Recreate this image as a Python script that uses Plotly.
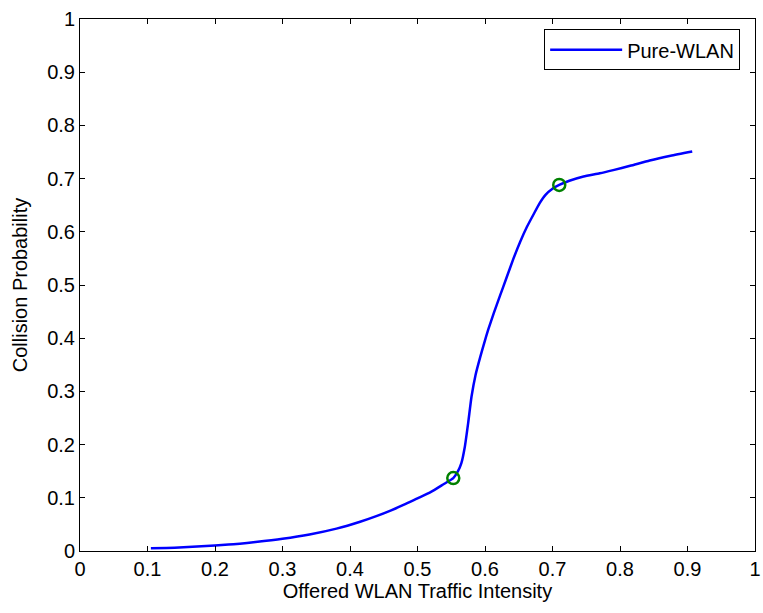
import plotly.graph_objects as go

# Data
intensity = [0.105, 0.14, 0.18, 0.22, 0.26, 0.30, 0.34, 0.38, 0.415, 0.44, 0.46, 0.48,
             0.50, 0.52, 0.538, 0.553, 0.560, 0.565, 0.570, 0.575, 0.580, 0.586, 0.593,
             0.600, 0.605, 0.613, 0.622, 0.632, 0.642, 0.652, 0.662, 0.672, 0.681,
             0.690, 0.700, 0.710, 0.725, 0.746, 0.770, 0.790, 0.815, 0.844, 0.875, 0.907]
collision = [0.005, 0.006, 0.009, 0.012, 0.017, 0.023, 0.031, 0.042, 0.055, 0.066, 0.076, 0.087,
             0.099, 0.111, 0.125, 0.137, 0.150, 0.165, 0.195, 0.240, 0.290, 0.331, 0.365,
             0.396, 0.417, 0.447, 0.479, 0.514, 0.549, 0.581, 0.609, 0.633, 0.654,
             0.670, 0.681, 0.688, 0.696, 0.704, 0.710, 0.716, 0.724, 0.734, 0.743, 0.751]
marker_x = [0.553, 0.71]
marker_y = [0.137, 0.688]

tick_vals = [i / 10 for i in range(11)]
tick_text = ["0", "0.1", "0.2", "0.3", "0.4", "0.5", "0.6", "0.7", "0.8", "0.9", "1"]

FONT = "Arial, Liberation Sans, sans-serif"
FS = 20

fig = go.Figure()
fig.add_trace(go.Scatter(x=intensity, y=collision, mode="lines", name="Pure-WLAN",
                         line=dict(color="#0000FF", width=2.5, shape="spline", smoothing=0.5)))
fig.add_trace(go.Scatter(x=marker_x, y=marker_y, mode="markers", showlegend=False,
                         marker=dict(symbol="circle-open", size=12, color="#008000",
                                     line=dict(width=2.5, color="#008000"))))

axis_common = dict(range=[0, 1], tickvals=tick_vals, ticktext=tick_text,
                   ticks="inside", ticklen=5, tickcolor="black", tickwidth=1,
                   showline=True, linecolor="black", linewidth=1, mirror="ticks",
                   showgrid=False, zeroline=False, automargin=False,
                   tickfont=dict(family=FONT, size=FS, color="black"))

fig.update_layout(
    width=763, height=613,
    margin=dict(l=80, r=8, t=19, b=62),
    paper_bgcolor="white", plot_bgcolor="white",
    font=dict(family=FONT, color="black"),
    xaxis=dict(title=dict(text="Offered WLAN Traffic Intensity",
                          font=dict(family=FONT, size=FS), standoff=4), **axis_common),
    yaxis=dict(title=dict(text="Collision Probability",
                          font=dict(family=FONT, size=FS), standoff=14), **axis_common),
    legend=dict(x=0.978, y=0.9806, xanchor="right", yanchor="top",
                bgcolor="white", bordercolor="black", borderwidth=1, itemwidth=72,
                font=dict(family=FONT, size=FS)),
)

fig.write_html("out.html", config={"displayModeBar": False},
               post_script="document.body.style.margin='0';")
